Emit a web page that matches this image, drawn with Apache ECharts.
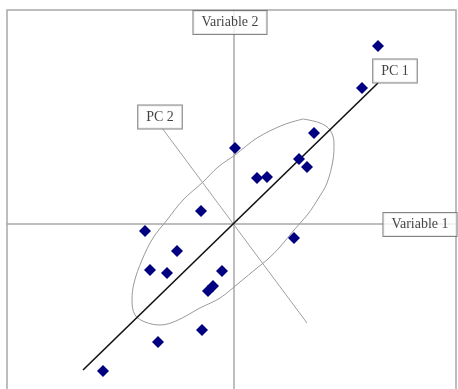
<!DOCTYPE html>
<html>
<head>
<meta charset="utf-8">
<script src="https://cdn.jsdelivr.net/npm/echarts@6/dist/echarts.min.js"></script>
<style>html,body{margin:0;padding:0;background:#fff}#c{width:458px;height:389px}</style>
</head>
<body>
<div id="c"></div>
<script>
// Observations (Variable 1, Variable 2)
const var1 = [2.88, 2.56, 1.60, 0.02, 1.30, 1.46, 0.46, 0.66, -0.66, -1.78, 1.20, -1.14, -1.68, -1.34, -0.24, -0.42, -0.52, -0.64, -1.52, -2.62];
const var2 = [3.56, 2.72, 1.82, 1.52, 1.30, 1.14, 0.92, 0.94, 0.26, -0.14, -0.28, -0.54, -0.92, -0.98, -0.94, -1.24, -1.34, -2.12, -2.36, -2.94];

// Principal component axes (end points)
const pc1X = [-3.02, 2.88];
const pc1Y = [-2.92, 2.82];
const pc2X = [-1.44, 1.46];
const pc2Y = [1.92, -1.98];

// Confidence ellipse outline
const ellX = [1.38, 1.72, 1.92, 2.00, 1.98, 1.86, 1.68, 1.48, 1.20, 0.92, 0.68, 0.46, 0.12, -0.28, -0.68, -1.16, -1.48, -1.78, -1.98, -2.04, -2.00, -1.84, -1.62, -1.34, -1.02, -0.62, -0.32, 0.02, 0.46, 0.98, 1.38];
const ellY = [2.10, 2.02, 1.88, 1.62, 1.28, 0.82, 0.50, 0.20, -0.12, -0.46, -0.70, -0.88, -1.16, -1.48, -1.68, -1.94, -2.02, -1.96, -1.82, -1.52, -1.18, -0.72, -0.28, 0.08, 0.48, 0.84, 1.14, 1.38, 1.72, 1.98, 2.10];

// Text labels
const labelNames = ['Variable 2', 'Variable 1', 'PC 1', 'PC 2'];
const labelX = [-0.08, 3.72, 3.22, -1.48];
const labelY = [4.03, -0.01, 3.06, 2.14];

const zip = (a, b) => a.map((v, i) => [v, b[i]]);

const chart = echarts.init(document.getElementById('c'));
const axisLine = { show: true, onZero: true, lineStyle: { color: '#a8a8a8', width: 1.5 } };
chart.setOption({
  animation: false,
  grid: { left: 7, top: 10, width: 449, height: 420, outerBoundsMode: 'none', containLabel: false, show: true, borderColor: '#a8a8a8', borderWidth: 1.5, backgroundColor: '#fff' },
  xAxis: { type: 'value', min: -4.54, max: 4.44, axisLine, axisTick: { show: false }, axisLabel: { show: false }, splitLine: { show: false } },
  yAxis: { type: 'value', min: -4.12, max: 4.28, axisLine, axisTick: { show: false }, axisLabel: { show: false }, splitLine: { show: false } },
  series: [
    { type: 'line', data: zip(ellX, ellY), smooth: 0.35, symbol: 'none', lineStyle: { color: '#9a9a9a', width: 1 }, z: 2 },
    { type: 'line', data: zip(pc2X, pc2Y), symbol: 'none', lineStyle: { color: '#a0a0a0', width: 1 }, z: 3 },
    { type: 'line', data: zip(pc1X, pc1Y), symbol: 'none', lineStyle: { color: '#111', width: 1.6 }, z: 4 },
    { type: 'scatter', data: zip(var1, var2), symbol: 'diamond', symbolSize: 12, itemStyle: { color: '#000080', opacity: 1 }, z: 5 },
    {
      type: 'scatter', symbolSize: 0, z: 6,
      data: labelNames.map((n, i) => ({ name: n, value: [labelX[i], labelY[i]] })),
      label: {
        show: true, position: 'inside', formatter: '{b}',
        fontFamily: 'Liberation Serif', fontSize: 14, color: '#111', lineHeight: 15,
        backgroundColor: '#fff', borderColor: '#666', borderWidth: 1, padding: [4, 8]
      }
    }
  ]
});
</script>
</body>
</html>
